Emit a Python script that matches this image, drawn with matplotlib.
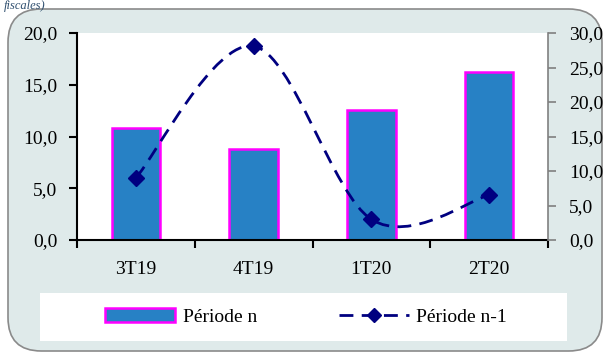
import numpy as np
import matplotlib.pyplot as plt
from matplotlib.patches import FancyBboxPatch, Rectangle
from matplotlib.path import Path
from matplotlib.patches import PathPatch
from matplotlib.lines import Line2D

categories = ['3T19', '4T19', '1T20', '2T20']
periode_n = [10.8, 8.8, 12.6, 16.2]
periode_n1 = [9.0, 28.1, 3.0, 6.5]
left_ticks = [0, 5, 10, 15, 20]
right_ticks = [0, 5, 10, 15, 20, 25, 30]

plt.rcParams['font.family'] = ['Liberation Serif', 'DejaVu Serif']

W, H = 606, 356
fig = plt.figure(figsize=(W / 100, H / 100), dpi=100)
fig.patch.set_facecolor('white')

# rounded grey-blue frame
box = FancyBboxPatch((8 / W, 5 / H), 594 / W, 342 / H,
                     boxstyle='round,pad=0,rounding_size=0.055',
                     transform=fig.transFigure, facecolor='#dfeaea',
                     edgecolor='#8a8a8a', linewidth=1.2, mutation_aspect=W / H,
                     zorder=-10)
fig.patches.append(box)
fig.text(4 / W, 1.0, 'fiscales)', fontsize=9, style='italic', color='#2f4f6f',
         ha='left', va='top')

ax = fig.add_axes([77 / W, 116 / H, 471 / W, 207 / H])
ax.set_facecolor('white')
x = np.arange(len(categories))
ax.bar(x, periode_n, width=0.41, color='#2781c5', edgecolor='#ff00ff', linewidth=1.8,
       zorder=2)
ax.set_xlim(-0.5, len(categories) - 0.5)
ax.set_ylim(0, 20)
ax.set_yticks(left_ticks)
ax.set_yticklabels([f'{v:.1f}'.replace('.', ',') for v in left_ticks], fontsize=14)
ax.set_xticks(x)
ax.set_xticklabels(categories, fontsize=14)
ax.tick_params(axis='x', length=0, pad=15)
ax.set_xticks(np.arange(-0.5, len(categories)), minor=True)
ax.tick_params(axis='x', which='minor', length=6, width=1.5, direction='out')
ax.tick_params(axis='y', length=6, width=1.5, direction='out', pad=8)
for s in ['top', 'right']:
    ax.spines[s].set_visible(False)
ax.spines['left'].set_linewidth(1.5)
ax.spines['bottom'].set_linewidth(1.5)

ax2 = ax.twinx()
ax2.set_ylim(0, 30)
ax2.set_yticks(right_ticks)
ax2.set_yticklabels([f'{v:.1f}'.replace('.', ',') for v in right_ticks], fontsize=14)
ax2.tick_params(axis='y', length=6, width=1.2, color='#808080', direction='out', pad=9)
for s in ['top', 'left', 'bottom']:
    ax2.spines[s].set_visible(False)
ax2.spines['right'].set_color('#808080')
ax2.spines['right'].set_linewidth(1.2)

# smoothed line (Catmull-Rom style bezier through the data points)
px = x.astype(float)
py = np.array(periode_n1, dtype=float)
verts = [(px[0], py[0])]
codes = [Path.MOVETO]
n = len(px)
for i in range(n - 1):
    p0 = (px[max(i - 1, 0)], py[max(i - 1, 0)])
    p1 = (px[i], py[i])
    p2 = (px[i + 1], py[i + 1])
    p3 = (px[min(i + 2, n - 1)], py[min(i + 2, n - 1)])
    c1 = (p1[0] + (p2[0] - p0[0]) / 6, p1[1] + (p2[1] - p0[1]) / 6)
    c2 = (p2[0] - (p3[0] - p1[0]) / 6, p2[1] - (p3[1] - p1[1]) / 6)
    verts += [c1, c2, p2]
    codes += [Path.CURVE4] * 3
curve = PathPatch(Path(verts, codes), facecolor='none', edgecolor='#000080',
                  linewidth=2, linestyle=(0, (5, 3)), zorder=3)
ax2.add_patch(curve)
ax2.plot(px, py, linestyle='none', marker='D', markersize=8, color='#000080', zorder=4)

# legend
leg_bg = Rectangle((40 / W, 15 / H), 527 / W, 48 / H, transform=fig.transFigure,
                   facecolor='white', edgecolor='none', zorder=-5)
fig.patches.append(leg_bg)
h1 = Rectangle((0, 0), 1, 1, facecolor='#2781c5', edgecolor='#ff00ff', linewidth=1.8)
h2 = Line2D([], [], color='#000080', linewidth=2, linestyle=(0, (5, 3)),
            marker='D', markersize=7)
fig.legend([h1, h2], ['Période n', 'Période n-1'], loc='center',
           bbox_to_anchor=(306 / W, 39 / H), ncol=2, frameon=False, fontsize=14,
           handlelength=3.6, handleheight=0.75, columnspacing=4.2, handletextpad=0.4)

fig.savefig('out.png', dpi=100, facecolor='white')
